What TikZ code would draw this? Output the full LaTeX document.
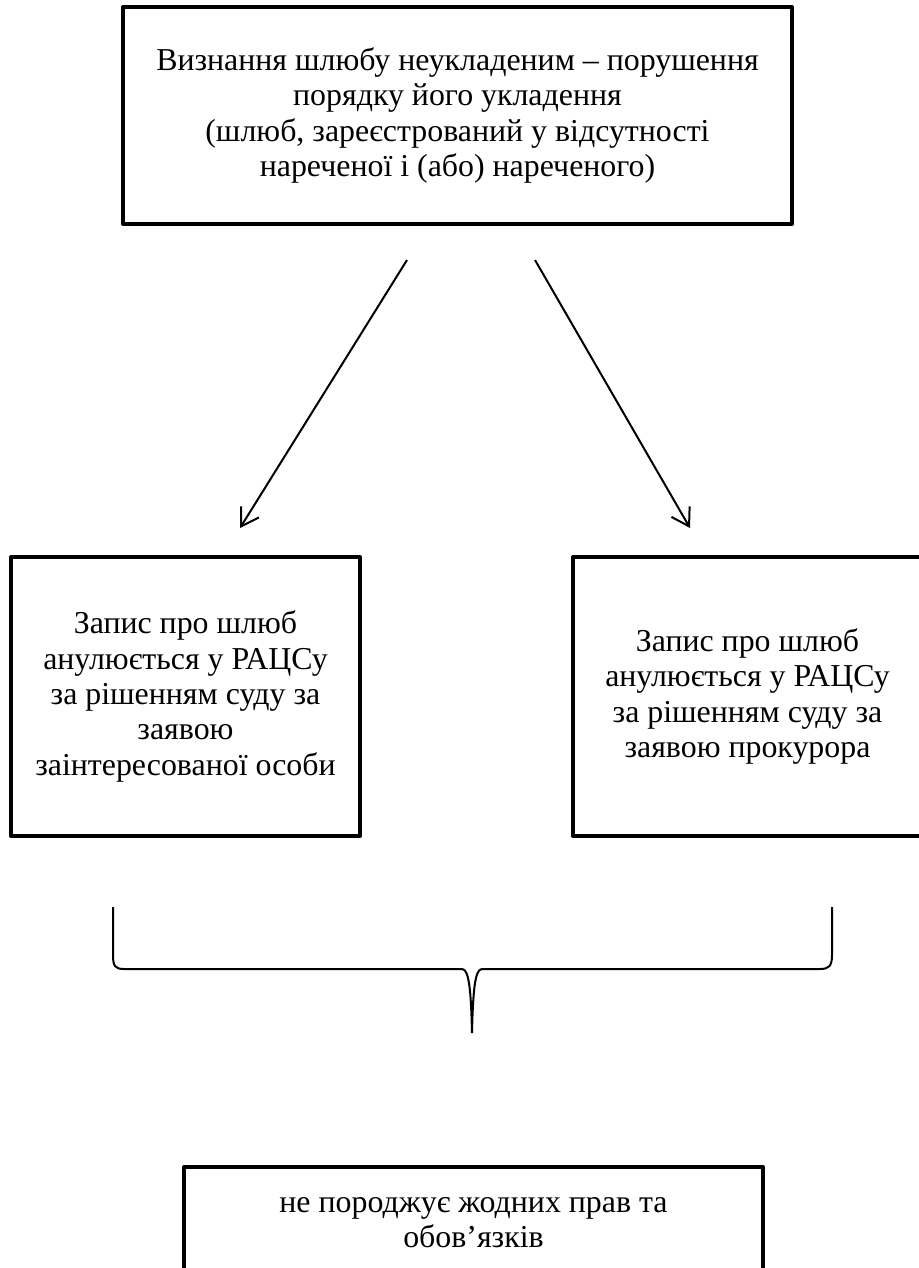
\documentclass[tikz,border=0pt]{standalone}
\usepackage{fontspec}
\setmainfont{Liberation Serif}
\usetikzlibrary{arrows.meta}
\begin{document}
\begin{tikzpicture}[x=1bp,y=-1bp]
    % page frame, in pixels of the scan
    \useasboundingbox (0,0) rectangle (919,1268);
    % font and size of the lower boxes
    \def\fnt{\fontsize{32}{35.5}\selectfont}
    \def\bw{349bp}
    \def\bh{279bp}
    % node style definition
    \tikzstyle{box} = [
    	draw, line width=4bp, line join=round, rectangle,
    	align=center, font=\fnt, inner sep=0pt ];
    \tikzstyle{arr} = [line width=2bp, -{Straight Barb[length=17bp,width=21bp]}];
    \tikzstyle{brace} = [line width=2bp];
    % the question
    \node[box, minimum width=669bp, minimum height=217bp] (top) at (457.5,115.5)
      { Визнання шлюбу неукладеним – порушення \\ порядку його укладення \\
        (шлюб, зареєстрований у відсутності \\ нареченої і (або) нареченого) };
    % two ways
    \node[box, minimum width=\bw, minimum height=\bh] (left) at (185.5,696.5)
      { Запис про шлюб \\ анулюється у РАЦСу \\ за рішенням суду за \\ заявою \\ заінтересованої особи };
    \node[box, minimum width=\bw, minimum height=\bh] (right) at (747.5,696.5)
      { Запис про шлюб \\ анулюється у РАЦСу \\ за рішенням суду за \\ заявою прокурора };
    % result
    \node[box, minimum width=579bp, minimum height=111bp] (res) at (473.5,1222.5)
      { не породжує жодних прав та \\ обов’язків };
    % arrow ends
    \coordinate (l1) at (407,260);
    \coordinate (l2) at (240,528);
    \coordinate (r1) at (535,260);
    \coordinate (r2) at (690,528);
    \draw[arr] (l1) -- (l2);
    \draw[arr] (r1) -- (r2);
    % brace under both boxes
    \coordinate (bl) at (113,907);
    \coordinate (br) at (832,907);
    \coordinate (tip) at (472,1033);
    \draw[brace] (bl) -- (113,955) .. controls (113,966) and (115,969) .. (124,969)
      -- (462,969) .. controls (469,969) and (471,990) .. (tip)
      .. controls (473,990) and (475,969) .. (482,969)
      -- (820,969) .. controls (829,969) and (832,966) .. (832,955) -- (br);
\end{tikzpicture}
\end{document}
